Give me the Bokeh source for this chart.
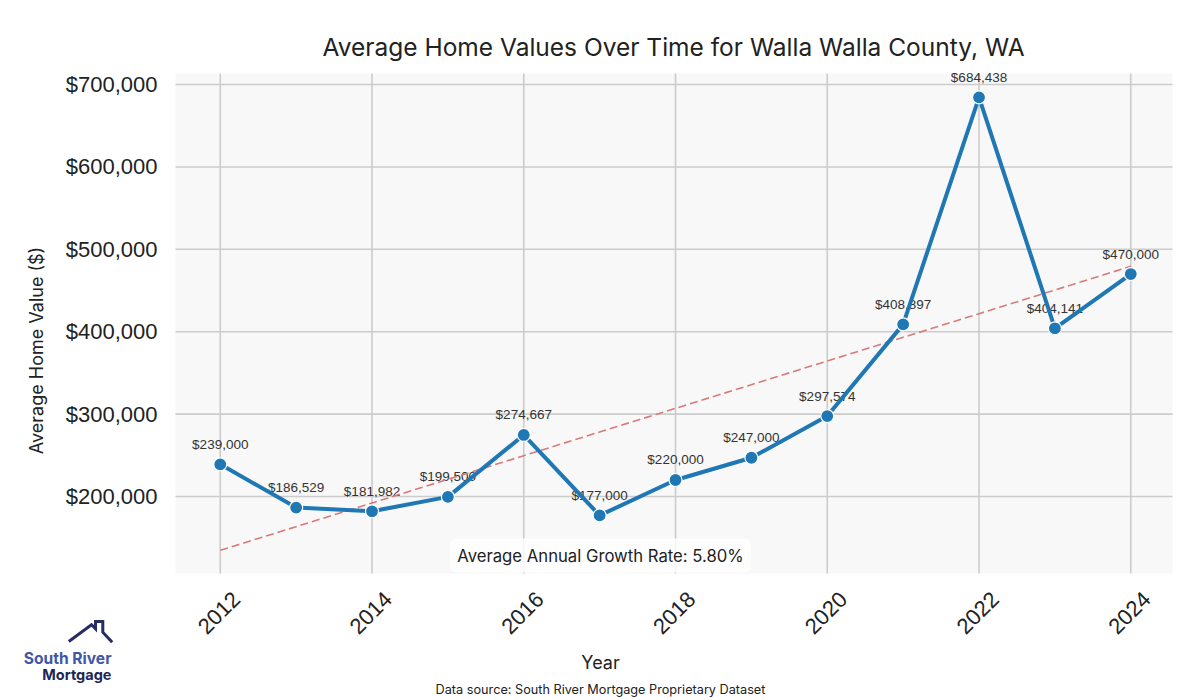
import numpy as np
from bokeh.plotting import figure
from bokeh.models import (ColumnDataSource, Label, NumeralTickFormatter,
                          FixedTicker, Range1d, BoxAnnotation)
from bokeh.core.properties import value
from bokeh.embed import file_html
from bokeh.resources import INLINE

# ---------------- data ----------------
years = [2012, 2013, 2014, 2015, 2016, 2017, 2018, 2019, 2020, 2021, 2022, 2023, 2024]
home_values = [239000, 186529, 181982, 199500, 274667, 177000, 220000, 247000,
               297574, 408897, 684438, 404141, 470000]
value_labels = ["$239,000", "$186,529", "$181,982", "$199,500", "$274,667", "$177,000",
                "$220,000", "$247,000", "$297,574", "$408,897", "$684,438", "$404,141",
                "$470,000"]
x_ticks = [2012, 2014, 2016, 2018, 2020, 2022, 2024]
y_ticks = [200000, 300000, 400000, 500000, 600000, 700000]
title_text = "Average Home Values Over Time for Walla Walla County, WA"
x_label = "Year"
y_label = "Average Home Value ($)"
growth_text = "Average Annual Growth Rate: 5.80%"
source_text = "Data source: South River Mortgage Proprietary Dataset"
logo_line1 = "South River"
logo_line2 = "Mortgage"

# ---------------- layout (pixels) ----------------
W, H = 1200, 700
PL, PR, PT, PB = 175, 1172, 73, 573          # plot area box
X0, X1 = 2011.41, 2024.55                     # visible data range of plot area
Y0, Y1 = 106500, 713400

sx = (X1 - X0) / (PR - PL)
sy = (Y1 - Y0) / (PB - PT)


def px(x):
    return X0 + (x - PL) * sx


def py(y):
    return Y0 + (PB - y) * sy


HEAD_FONT = "Inter"
NUM_FONT = "Liberation Sans"
INK = "#222222"

p = figure(width=W, height=H, output_backend="svg", toolbar_location=None,
           x_range=Range1d(px(0), px(W)), y_range=Range1d(py(H), py(0)),
           background_fill_color="white", border_fill_color="white",
           min_border=0)
p.outline_line_color = None
p.title.visible = False
p.xgrid.visible = False
p.ygrid.visible = False

# plot-area background
p.add_layout(BoxAnnotation(left=X0, right=X1, bottom=Y0, top=Y1,
                           fill_color="#f8f8f8", fill_alpha=1.0,
                           line_color=None, level="image"))

# grid lines (from the tick arrays)
p.segment(x0=x_ticks, y0=[Y0] * len(x_ticks), x1=x_ticks, y1=[Y1] * len(x_ticks),
          line_color="#cccccc", line_width=1.6)
p.segment(x0=[X0] * len(y_ticks), y0=y_ticks, x1=[X1] * len(y_ticks), y1=y_ticks,
          line_color="#cccccc", line_width=1.6)

# axes, pinned to the plot-area edges
xa, ya = p.xaxis[0], p.yaxis[0]
xa.fixed_location = Y0
ya.fixed_location = X0
# rotated year labels: shift anchors so each label is centred on its year
label_shift = 16.0 * sx
xa.ticker = FixedTicker(ticks=[t + label_shift for t in x_ticks])
xa.formatter = NumeralTickFormatter(format="0")
ya.ticker = FixedTicker(ticks=y_ticks)
ya.formatter = NumeralTickFormatter(format="$0,0")
for ax in (xa, ya):
    ax.axis_line_color = None
    ax.major_tick_line_color = None
    ax.minor_tick_line_color = None
    ax.major_tick_out = 0
    ax.major_tick_in = 0
    ax.major_label_text_font = NUM_FONT
    ax.major_label_text_font_size = "22px"
    ax.major_label_text_color = INK
    ax.axis_label_text_font = HEAD_FONT
    ax.axis_label_text_font_size = "18px"
    ax.axis_label_text_font_style = "normal"
    ax.axis_label_text_color = INK
xa.major_label_orientation = np.pi / 4
xa.major_label_standoff = 22
xa.axis_label_standoff = 8
ya.major_label_standoff = 18
ya.axis_label_standoff = 16
xa.axis_label = x_label
ya.axis_label = y_label

src = ColumnDataSource(dict(x=years, y=home_values, lab=value_labels))

# value labels
p.text(x="x", y="y", text="lab", source=src, text_font=value(NUM_FONT),
       text_font_size="13.5px", text_color="#333333", text_align="center",
       text_baseline="middle", y_offset=-20)

# trend line (least-squares fit of the data)
coef = np.polyfit(years, home_values, 1)
trend = np.polyval(coef, years)
p.line(years, trend, line_color="#d87a7a", line_width=1.6, line_dash="8 4")

# main line and points
p.line(x="x", y="y", source=src, line_color="#1f77b4", line_width=4)
p.scatter(x="x", y="y", source=src, size=13, fill_color="#1f77b4",
          line_color="white", line_width=1.2)

# title
p.add_layout(Label(x=px(673), y=py(46.5), text=title_text, text_align="center",
                   text_baseline="alphabetic", text_font=HEAD_FONT,
                   text_font_size="24.5px", text_color=INK))

# growth-rate box
p.add_layout(Label(x=px(600), y=py(555), text=growth_text, text_align="center",
                   text_baseline="middle", text_font=HEAD_FONT, text_font_size="16.7px",
                   text_color=INK, background_fill_color="white",
                   background_fill_alpha=0.8, padding=7, border_radius=6))

# source note
p.add_layout(Label(x=px(600), y=py(689), text=source_text, text_align="center",
                   text_baseline="middle", text_font=HEAD_FONT,
                   text_font_size="12.7px", text_color=INK))

# logo
roof_x = [68.3, 91.0, 95.0, 95.0, 102.3, 102.3, 111.7]
roof_y = [641.0, 624.3, 628.3, 621.0, 621.0, 631.7, 641.7]
p.line([px(v) for v in roof_x], [py(v) for v in roof_y], line_color="#252d63",
       line_width=3, line_join="miter")
p.add_layout(Label(x=px(111), y=py(658), text=logo_line1, text_align="right",
                   text_baseline="alphabetic", text_font=HEAD_FONT,
                   text_font_size="15.6px", text_font_style="bold",
                   text_color="#4257a6"))
p.add_layout(Label(x=px(111), y=py(674), text=logo_line2, text_align="right",
                   text_baseline="alphabetic", text_font=HEAD_FONT,
                   text_font_size="14.5px", text_font_style="bold",
                   text_color="#1c2657"))

open("out.html", "w").write(file_html(p, INLINE))
